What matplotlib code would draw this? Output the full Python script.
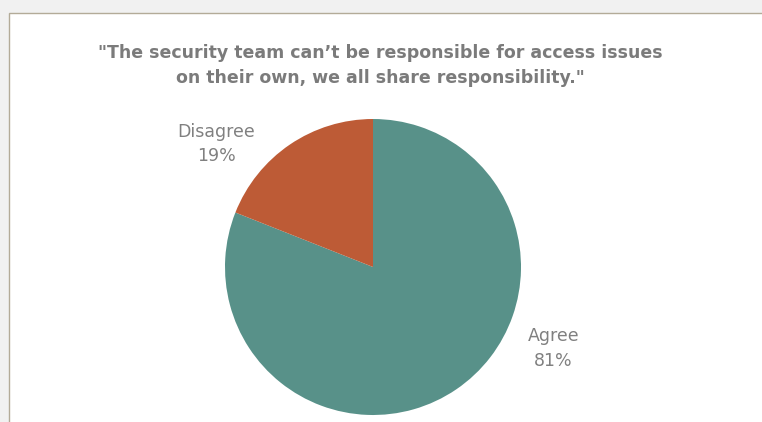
import matplotlib
matplotlib.use("Agg")
import matplotlib.pyplot as plt
from matplotlib.patches import Rectangle

# survey answers
categories = ["Agree", "Disagree"]
shares = [81, 19]
colors = ["#589189", "#bd5b36"]

title = ('"The security team can\u2019t be responsible for access issues\n'
         'on their own, we all share responsibility."')

W, H = 762, 422
fig = plt.figure(figsize=(W / 100, H / 100), dpi=100)
fig.patch.set_facecolor("#f1f1f1")

# white chart card with thin taupe border
card = Rectangle((8.5 / W, -0.1), 1.0, (H - 13.5) / H + 0.1,
                 transform=fig.transFigure, facecolor="white",
                 edgecolor="#b3ab98", linewidth=1.0, zorder=-5)
fig.patches.append(card)

fig.text(380 / W, 1 - 65.5 / H, title, ha="center", va="center",
         fontsize=12.5, fontweight="bold", color="#7b7b7b",
         family="DejaVu Sans", linespacing=1.55)

# pie: centre (373, 267), radius 148 in pixels
r = 148
ax = fig.add_axes([(373 - r) / W, (H - 267 - r) / H, 2 * r / W, 2 * r / H])
ax.pie(shares, colors=colors, startangle=90, counterclock=False,
       radius=1.0, wedgeprops=dict(linewidth=0))
ax.set_xlim(-1, 1)
ax.set_ylim(-1, 1)
ax.set_aspect("equal")
ax.axis("off")

label_pos = {"Agree": (1.22, -0.55), "Disagree": (-1.06, 0.83)}
for name, val in zip(categories, shares):
    x, y = label_pos[name]
    ax.text(x, y, f"{name}\n{val}%", ha="center", va="center",
            fontsize=12.5, color="#808080", family="DejaVu Sans",
            linespacing=1.45, clip_on=False)

fig.savefig("out.png", dpi=100)
